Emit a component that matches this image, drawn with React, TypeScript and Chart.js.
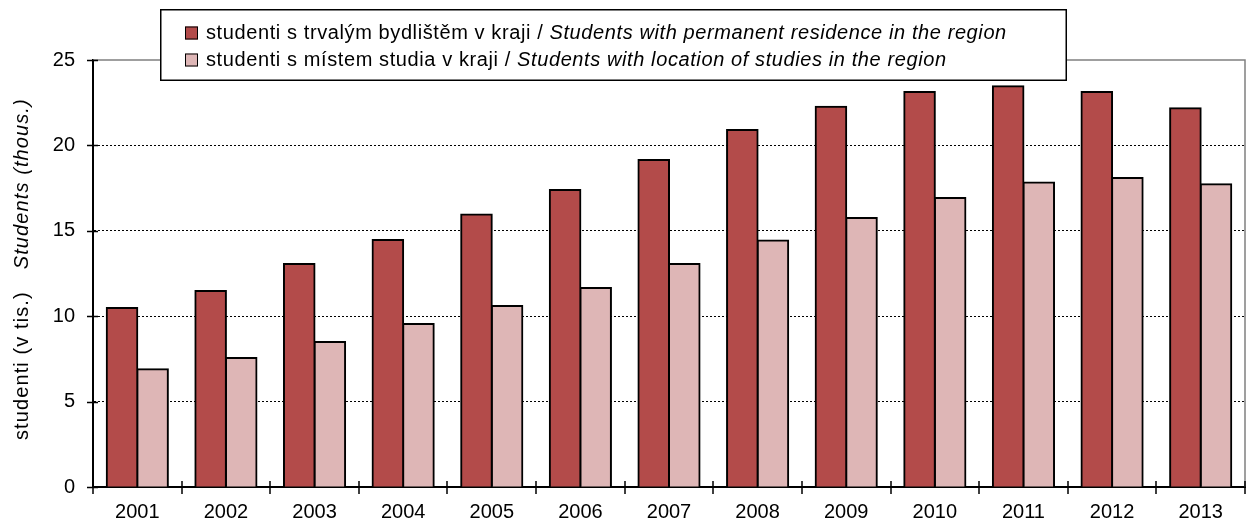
import React, { useEffect, useRef } from "react";
import { Chart, registerables } from "chart.js";

Chart.register(...registerables);

const years = ["2001", "2002", "2003", "2004", "2005", "2006", "2007", "2008", "2009", "2010", "2011", "2012", "2013"];
const permanentResidence = [10.48, 11.48, 13.06, 14.46, 15.96, 17.39, 19.15, 20.9, 22.27, 23.13, 23.46, 23.13, 22.17];
const studyLocation = [6.9, 7.55, 8.49, 9.54, 10.6, 11.65, 13.06, 14.43, 15.75, 16.92, 17.83, 18.09, 17.72];
const yTicks = [0, 5, 10, 15, 20, 25];

const legendNormal = ["studenti s trvalým bydlištěm v kraji / ", "studenti s místem studia v kraji / "];
const legendItalic = ["Students with permanent residence in the region", "Students with location of studies in the region"];
const titleNormal = "studenti (v tis.)";
const titleItalic = "Students (thous.)";

const DARK = "#B34B4A";
const LIGHT = "#DEB6B6";
const FONT = "'Liberation Sans', Arial, sans-serif";

const decorPlugin = {
  id: "decor",
  afterDraw(chart: any) {
    const ctx = chart.ctx as any;
    const area = chart.chartArea;
    const ys = chart.scales.y;
    ctx.save();
    // plot border top/right (gray)
    ctx.strokeStyle = "#808080";
    ctx.lineWidth = 1.5;
    ctx.beginPath();
    ctx.moveTo(area.left, area.top);
    ctx.lineTo(area.right, area.top);
    ctx.lineTo(area.right, area.bottom);
    ctx.stroke();
    // cross ticks
    ctx.strokeStyle = "#000";
    ctx.lineWidth = 1.5;
    ctx.beginPath();
    for (const v of yTicks) {
      const y = Math.round(ys.getPixelForValue(v)) + 0.5;
      ctx.moveTo(area.left - 6, y);
      ctx.lineTo(area.left + 5, y);
    }
    const n = years.length;
    const cw = (area.right - area.left) / n;
    for (let i = 0; i <= n; i++) {
      const x = Math.round(area.left + i * cw);
      ctx.moveTo(x, area.bottom - 6);
      ctx.lineTo(x, area.bottom + 7);
    }
    ctx.stroke();

    // y title
    ctx.fillStyle = "#000";
    ctx.textBaseline = "middle";
    ctx.textAlign = "left";
    ctx.translate(22, 440);
    ctx.rotate(-Math.PI / 2);
    ctx.letterSpacing = "1.1px";
    ctx.font = `20px ${FONT}`;
    ctx.fillText(titleNormal, 0, 0);
    const w1 = ctx.measureText(titleNormal).width;
    ctx.font = `italic 20px ${FONT}`;
    ctx.fillText(titleItalic, w1 + 22, 0);
    ctx.setTransform(1, 0, 0, 1, 0, 0);
    ctx.restore();

    // legend
    ctx.save();
    ctx.fillStyle = "#fff";
    ctx.fillRect(160, 9, 906, 71);
    ctx.strokeStyle = "#000";
    ctx.lineWidth = 1.5;
    ctx.strokeRect(160.75, 9.75, 905.5, 70.5);
    const rows = [33, 60];
    const colors = [DARK, LIGHT];
    for (let i = 0; i < 2; i++) {
      const cy = rows[i];
      ctx.fillStyle = colors[i];
      ctx.fillRect(185, cy - 6.5, 13, 13);
      ctx.strokeStyle = "#000";
      ctx.lineWidth = 1;
      ctx.strokeRect(185.5, cy - 6, 12, 12);
      ctx.fillStyle = "#000";
      ctx.textBaseline = "middle";
      ctx.textAlign = "left";
      ctx.letterSpacing = "0.6px";
      ctx.font = `20px ${FONT}`;
      ctx.fillText(legendNormal[i], 206, cy);
      const w = ctx.measureText(legendNormal[i]).width;
      ctx.font = `italic 20px ${FONT}`;
      ctx.fillText(legendItalic[i], 206 + w, cy);
    }
    ctx.restore();
  },
};

export default function App() {
  const ref = useRef<HTMLCanvasElement | null>(null);
  useEffect(() => {
    if (!ref.current) return;
    const chart = new Chart(ref.current, {
      type: "bar",
      data: {
        labels: years,
        datasets: [
          {
            label: legendNormal[0] + legendItalic[0],
            data: permanentResidence,
            backgroundColor: DARK,
            borderColor: "#000",
            borderWidth: 2,
            inflateAmount: 1,
            categoryPercentage: 0.69,
            barPercentage: 1,
          },
          {
            label: legendNormal[1] + legendItalic[1],
            data: studyLocation,
            backgroundColor: LIGHT,
            borderColor: "#000",
            borderWidth: 2,
            inflateAmount: 1,
            categoryPercentage: 0.69,
            barPercentage: 1,
          },
        ],
      },
      options: {
        animation: false,
        responsive: true,
        maintainAspectRatio: false,
        layout: { padding: { top: 60, right: 5, left: 0, bottom: 0 } },
        plugins: { legend: { display: false }, tooltip: { enabled: false } },
        scales: {
          x: {
            grid: { display: false, drawTicks: false },
            border: { display: true, color: "#000", width: 2 },
            ticks: { color: "#000", font: { family: FONT, size: 20 }, padding: 13, maxRotation: 0 },
            afterFit: (s: any) => {
              s.height = 38;
            },
          },
          y: {
            min: 0,
            max: 25,
            grid: {
              drawTicks: false,
              color: (c: any) => (c.tick && (c.tick.value === 0 || c.tick.value === 25) ? "rgba(0,0,0,0)" : "#000"),
              lineWidth: 1,
            },
            border: { display: true, color: "#000", width: 2, dash: [2, 2] },
            ticks: { stepSize: 5, color: "#000", font: { family: FONT, size: 20 }, padding: 18 },
            afterFit: (s: any) => {
              s.width = 93;
            },
          },
        },
      },
      plugins: [decorPlugin],
    });
    return () => chart.destroy();
  }, []);
  return (
    <div style={{ position: "fixed", left: 0, top: 0, width: 1250, height: 525, background: "#fff" }}>
      <canvas ref={ref} />
    </div>
  );
}
